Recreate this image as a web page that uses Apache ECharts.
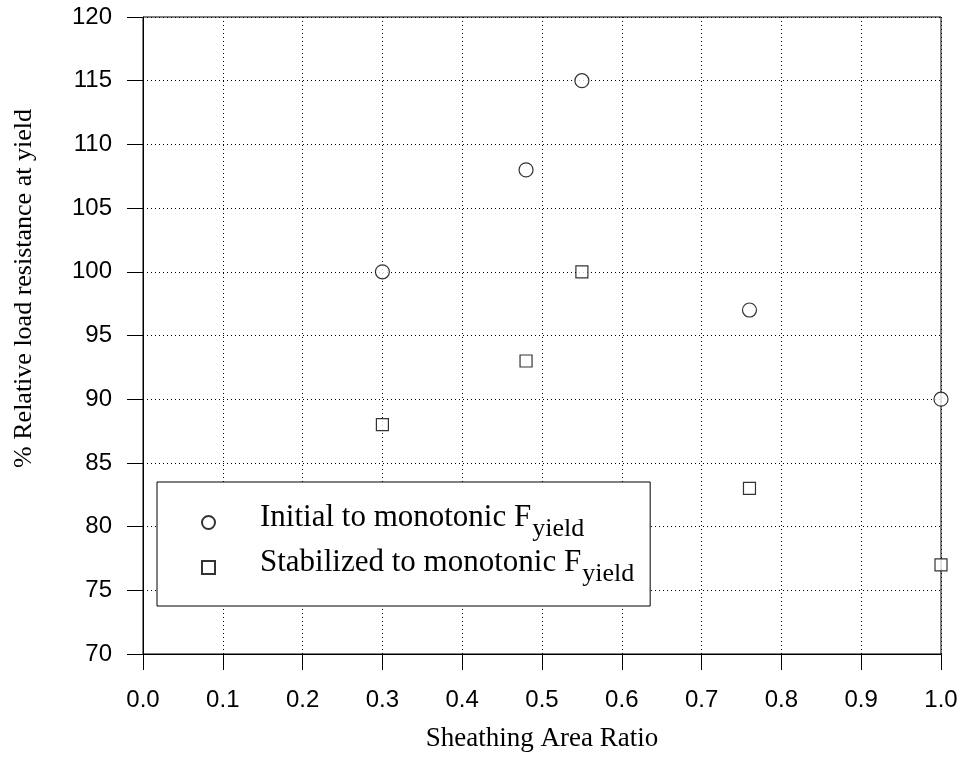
<!DOCTYPE html>
<html>
<head>
<meta charset="utf-8">
<script src="https://cdn.jsdelivr.net/npm/echarts@6/dist/echarts.min.js"></script>
<style>
  html, body { margin: 0; padding: 0; background: #fff; }
  #chart { width: 966px; height: 777px; }
</style>
</head>
<body>
<div id="chart"></div>
<script>
const areaRatio = [0.3, 0.48, 0.55, 0.76, 1.0]
const initialToMono = [100, 108, 115, 97, 90]
const stabilizedToMono = [88, 93, 100, 83, 77]
const seriesNames = ['Initial to monotonic F', 'Stabilized to monotonic F']

const chart = echarts.init(document.getElementById('chart'))

const markerStyle = { color: '#fff', borderColor: '#000', borderWidth: 1.2 }
const sans = 'Liberation Sans, Arial, sans-serif'
const serif = 'Liberation Serif, Times New Roman, serif'

chart.setOption({
  animation: false,
  grid: {
    left: 143, right: 25, top: 17, bottom: 123,
    outerBoundsMode: 'none',
    containLabel: false,
    show: true, borderColor: '#000', borderWidth: 1, backgroundColor: 'transparent'
  },
  legend: {
    orient: 'vertical',
    left: 157,
    top: 482,
    padding: [20, 16, 19, 44],
    itemGap: 5,
    itemWidth: 13,
    itemHeight: 13,
    borderColor: '#000',
    borderWidth: 1,
    backgroundColor: '#fff',
    data: [
      { name: seriesNames[0], icon: 'circle' },
      { name: seriesNames[1], icon: 'rect' }
    ],
    formatter: (name) => '{a|' + name + '}{s|yield}',
    textStyle: {
      fontFamily: serif,
      fontSize: 31,
      color: '#000',
      padding: [0, 0, 10, 40],
      rich: {
        a: { fontFamily: serif, fontSize: 31, color: '#000' },
        s: { fontFamily: serif, fontSize: 26, color: '#000', padding: [23, 0, 0, 1] }
      }
    }
  },
  xAxis: {
    type: 'value',
    min: 0,
    max: 1,
    interval: 0.1,
    name: 'Sheathing Area Ratio',
    nameLocation: 'middle',
    nameGap: 71,
    nameTextStyle: { fontFamily: serif, fontSize: 27, color: '#000' },
    axisLine: { show: true, lineStyle: { color: '#000', width: 1 } },
    axisTick: { show: true, inside: false, length: 16, lineStyle: { color: '#000' } },
    axisLabel: {
      margin: 34, fontFamily: sans, fontSize: 24, color: '#000',
      formatter: (v) => v.toFixed(1)
    },
    splitLine: { show: true, lineStyle: { color: '#000', type: [1, 3], width: 1 } }
  },
  yAxis: {
    type: 'value',
    min: 70,
    max: 120,
    interval: 5,
    name: '% Relative load resistance at yield',
    nameLocation: 'middle',
    nameGap: 106,
    nameTextStyle: { fontFamily: serif, fontSize: 26, color: '#000', padding: [0, 0, 0, 94] },
    axisLine: { show: true, lineStyle: { color: '#000', width: 1 } },
    axisTick: { show: true, inside: false, length: 16, lineStyle: { color: '#000' } },
    axisLabel: { margin: 31, fontFamily: sans, fontSize: 24, color: '#000' },
    splitLine: { show: true, lineStyle: { color: '#000', type: [1, 3], width: 1 } }
  },
  series: [
    {
      name: seriesNames[0],
      type: 'scatter',
      symbol: 'circle',
      symbolSize: 14,
      itemStyle: markerStyle,
      data: areaRatio.map((x, i) => [x, initialToMono[i]])
    },
    {
      name: seriesNames[1],
      type: 'scatter',
      symbol: 'rect',
      symbolSize: 12,
      itemStyle: markerStyle,
      data: areaRatio.map((x, i) => [x, stabilizedToMono[i]])
    }
  ]
})
</script>
</body>
</html>
